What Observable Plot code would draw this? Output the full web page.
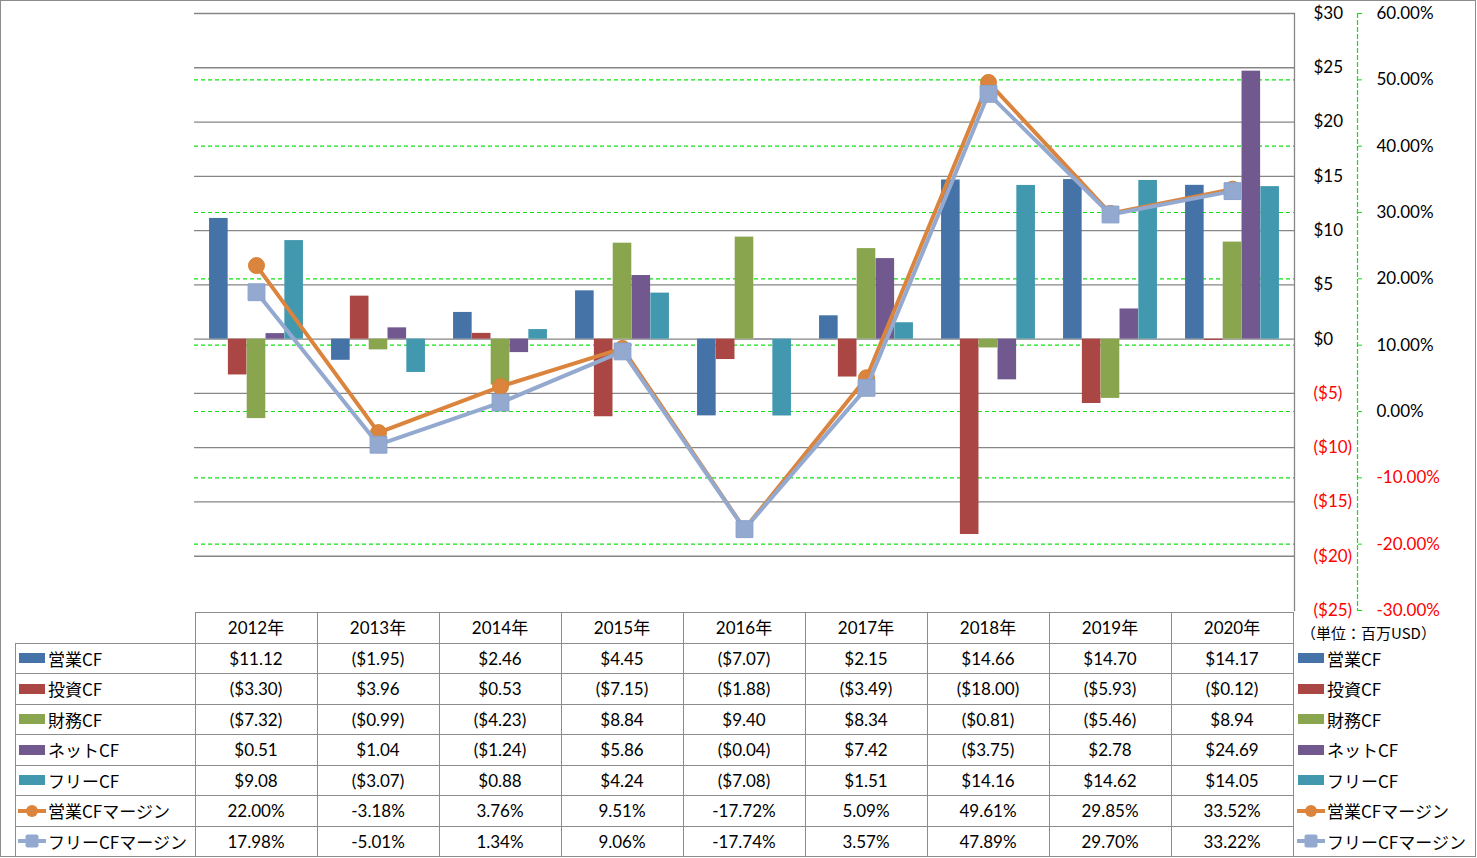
<!DOCTYPE html>
<html><head><meta charset="utf-8">
<script src="https://cdn.jsdelivr.net/npm/d3@7"></script>
<script src="https://cdn.jsdelivr.net/npm/@observablehq/plot@0.6"></script>
<style>
body{margin:0;background:#fff;}
#wrap{position:relative;width:1477px;height:858px;overflow:hidden;font-family:Lato,"Noto Sans CJK JP",sans-serif;color:#000;}
#wrap > svg{position:absolute;left:0;top:0;}
.hl,.vl{position:absolute;background:#8c8c8c;}
.cell{position:absolute;display:flex;align-items:center;justify-content:center;font-size:17px;white-space:nowrap;}
.lab{position:absolute;display:flex;align-items:center;font-size:17px;white-space:nowrap;font-family:"Noto Sans CJK JP",sans-serif;}
.lab svg{position:static;display:block;margin-right:2px;}
#border{position:absolute;left:0;top:0;width:1474px;height:855px;border:1.5px solid #8c8c8c;pointer-events:none;}
</style></head><body><div id="wrap"></div><script>
const years = ["2012年","2013年","2014年","2015年","2016年","2017年","2018年","2019年","2020年"];
const opCF   = [11.12,-1.95,2.46,4.45,-7.07,2.15,14.66,14.70,14.17];
const invCF  = [-3.30,3.96,0.53,-7.15,-1.88,-3.49,-18.00,-5.93,-0.12];
const finCF  = [-7.32,-0.99,-4.23,8.84,9.40,8.34,-0.81,-5.46,8.94];
const netCF  = [0.51,1.04,-1.24,5.86,-0.04,7.42,-3.75,2.78,24.69];
const freeCF = [9.08,-3.07,0.88,4.24,-7.08,1.51,14.16,14.62,14.05];
const opMargin   = [22.00,-3.18,3.76,9.51,-17.72,5.09,49.61,29.85,33.52];
const freeMargin = [17.98,-5.01,1.34,9.06,-17.74,3.57,47.89,29.70,33.22];
const barNames  = ["営業CF","投資CF","財務CF","ネットCF","フリーCF"];
const lineNames = ["営業CFマージン","フリーCFマージン"];
const usdTicks = [30,25,20,15,10,5,0,-5,-10,-15,-20,-25];
const pctTicks = [60,50,40,30,20,10,0,-10,-20,-30];
const unitLabel = "（単位：百万USD）";

const barColors = ["#4572A7","#AA4643","#89A54E","#71588F","#4198AF"];
const lineColors = ["#DB843D","#93A9CF"];
const GRID = "#868686", GREEN = "#11e011", RED = "#ff0000";

const barSeries = [opCF, invCF, finCF, netCF, freeCF];
const lineSeries = [opMargin, freeMargin];
const usdMin = -25, usdMax = 30, pctMin = -30, pctMax = 60;
const toUsd = p => usdMin + (p - pctMin) * (usdMax - usdMin) / (pctMax - pctMin);
const fmtUsd0 = v => v < 0 ? `($${-v})` : `$${v}`;
const fmtUsd2 = v => v < 0 ? `($${(-v).toFixed(2)})` : `$${v.toFixed(2)}`;
const fmtPct = p => `${p.toFixed(2)}%`;

const W = 1477, H = 612, ML = 194, MR = 183, MT = 13, MB = 2;
const band = (W - ML - MR) / years.length;
const barW = band * 0.154;
const off = (band - barW * barSeries.length) / 2;

const barMarks = barSeries.map((s, i) => Plot.barY(
  years.map((y, j) => ({year: y, v: s[j]})),
  {x: "year", y: "v", fill: barColors[i], insetLeft: off + i * barW, insetRight: band - off - (i + 1) * barW}
));

const lineData = lineSeries.map(s => years.map((y, j) => ({year: y, m: s[j]})));

const chart = Plot.plot({
  width: W, height: H, marginLeft: ML, marginRight: MR, marginTop: MT, marginBottom: MB,
  x: {domain: years, type: "band", padding: 0, axis: null},
  y: {domain: [usdMin, usdMax]},
  style: {fontFamily: 'Lato,"Noto Sans CJK JP",sans-serif', fontSize: "17px", background: "transparent", overflow: "visible"},
  marks: [
    Plot.ruleY(usdTicks.filter(v => v > usdMin), {stroke: GRID, strokeWidth: 1.3}),
    Plot.ruleY(pctTicks.filter(p => p > pctMin && p < pctMax).map(toUsd), {stroke: GREEN, strokeWidth: 1.2, strokeDasharray: "4,3"}),
    Plot.frame({anchor: "right", stroke: GRID, strokeWidth: 1.3}),
    Plot.frame({anchor: "right", dx: 63, stroke: GREEN, strokeWidth: 1.2, strokeDasharray: "4,3"}),
    Plot.axisY(pctTicks.map(toUsd), {anchor: "right", dx: 63, tickSize: 4, tickPadding: 0, stroke: GREEN, tickFormat: () => "", label: null}),
    ...barMarks,
    Plot.line(lineData[0], {x: "year", y: d => toUsd(d.m), stroke: lineColors[0], strokeWidth: 4}),
    Plot.dot(lineData[0], {x: "year", y: d => toUsd(d.m), r: 8, fill: lineColors[0], stroke: "#d9812f", strokeWidth: 1}),
    Plot.line(lineData[1], {x: "year", y: d => toUsd(d.m), stroke: lineColors[1], strokeWidth: 4}),
    Plot.dot(lineData[1], {x: "year", y: d => toUsd(d.m), r: 9.5, symbol: "square", fill: lineColors[1], stroke: "#8aa2cc", strokeWidth: 1}),
    Plot.text(usdTicks, {y: d => d, text: fmtUsd0, frameAnchor: "right", textAnchor: "start", dx: 19, fill: d => d < 0 ? RED : "#000"}),
    Plot.text(pctTicks, {y: d => toUsd(d), text: fmtPct, frameAnchor: "right", textAnchor: "start", dx: 82, fill: d => d < 0 ? RED : "#000"})
  ]
});

const wrap = document.getElementById("wrap");
wrap.appendChild(chart);

// data table below the plot
const xs = chart.scale("x");
const bw = xs.bandwidth;
const colX = years.map(y => Math.round(xs.apply(y)));
const x0 = colX[0], x1 = Math.round(xs.apply(years[years.length - 1]) + bw);
const tTop = 612, hdrH = 31, rowH = 30.45, labelX = 15;
const nRows = barNames.length + lineNames.length;
const rowTop = k => Math.round(tTop + hdrH + k * rowH);

function add(cls, style, html) {
  const d = document.createElement("div");
  d.className = cls;
  Object.assign(d.style, style);
  if (html != null) d.innerHTML = html;
  wrap.appendChild(d);
  return d;
}
add("hl", {left: x0 + "px", top: tTop + "px", width: (x1 - x0) + "px", height: "1px"});
for (let k = 0; k <= nRows; k++) {
  add("hl", {left: labelX + "px", top: rowTop(k) + "px", width: (x1 - labelX) + "px", height: "1px"});
}
const tBottom = rowTop(nRows);
for (let j = 0; j <= years.length; j++) {
  const x = j < years.length ? colX[j] : x1;
  add("vl", {left: x + "px", top: tTop + "px", width: "1px", height: (tBottom - tTop) + "px"});
}
add("vl", {left: labelX + "px", top: rowTop(0) + "px", width: "1px", height: (tBottom - rowTop(0)) + "px"});

const colW = j => (j < years.length - 1 ? colX[j + 1] : x1) - colX[j];
years.forEach((y, j) => add("cell", {left: colX[j] + "px", top: (tTop - 1) + "px", width: colW(j) + "px", height: hdrH + "px"}, y));

function keySvg(i, isLine) {
  if (!isLine) return `<svg width="28" height="12"><rect x="1" y="1" width="26" height="10" fill="${barColors[i]}"/></svg>`;
  const c = lineColors[i];
  const m = i === 0 ? `<circle cx="14" cy="8" r="6" fill="${c}"/>` : `<rect x="7.5" y="1.5" width="13" height="13" rx="2" fill="${c}"/>`;
  return `<svg width="28" height="16"><line x1="0" x2="28" y1="8" y2="8" stroke="${c}" stroke-width="4"/>${m}</svg>`;
}
const rows = [
  ...barNames.map((n, i) => ({name: n, key: keySvg(i, false), vals: barSeries[i].map(fmtUsd2)})),
  ...lineNames.map((n, i) => ({name: n, key: keySvg(i, true), vals: lineSeries[i].map(fmtPct)}))
];
rows.forEach((r, k) => {
  const top = rowTop(k), h = rowTop(k + 1) - top;
  add("lab", {left: (labelX + 3) + "px", top: top + "px", height: h + "px"}, r.key + r.name);
  r.vals.forEach((v, j) => add("cell", {left: colX[j] + "px", top: top + "px", width: colW(j) + "px", height: h + "px"}, v));
  add("lab", {left: (x1 + 4) + "px", top: top + "px", height: h + "px"}, r.key + r.name);
});
add("lab", {left: (x1 + 8) + "px", top: (tTop + 8) + "px", height: "24px", fontSize: "15px"}, unitLabel);
add("", {}, null).id = "border";
</script></body></html>
